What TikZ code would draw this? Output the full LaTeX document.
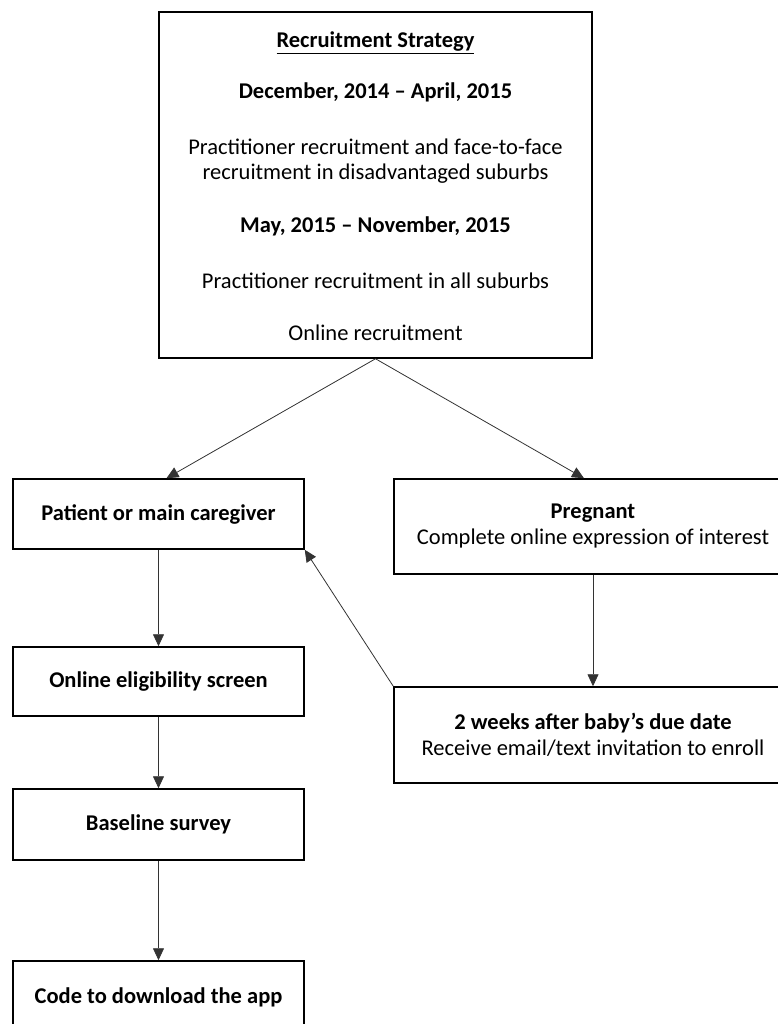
\documentclass[tikz,border=0pt]{standalone}
\usepackage{fontspec}
\setmainfont{Carlito}
\usepackage{tikz}
\usetikzlibrary{arrows.meta, positioning, calc}

\begin{document}
\begin{tikzpicture}[x=1pt, y=-1pt,
    box/.style={draw, line width=1.5pt, inner sep=0pt, font=\fontsize{22.5}{26}\selectfont},
    link/.style={draw=black!80, line width=0.8pt, -{Triangle[length=12pt, width=11pt]}},
    txt/.style={font=\fontsize{22.5}{26}\selectfont, inner sep=0pt}]
  \useasboundingbox (0,0) rectangle (778,1024);

  % recruitment strategy box
  \node[box, minimum width=433pt, minimum height=346pt] (strategy) at (375.5,185) {};
  \foreach \y/\l in {43/{\bfseries\underline{Recruitment Strategy}},
                     92/{\bfseries December, 2014 – April, 2015},
                     147/{Practitioner recruitment and face-to-face},
                     174/{recruitment in disadvantaged suburbs},
                     226/{\bfseries May, 2015 – November, 2015},
                     281/{Practitioner recruitment in all suburbs},
                     333/{Online recruitment}} {
    \node[txt] at (375.5,\y) {\l};
  }

  % left column
  \node[box, minimum width=291pt, minimum height=70pt] (patient) at (158.5,514)
    {\bfseries Patient or main caregiver};
  \node[box, minimum width=291pt, minimum height=69pt] (screen) at (158.5,681.5)
    {\bfseries Online eligibility screen};
  \node[box, minimum width=291pt, minimum height=71pt] (survey) at (158.5,824.5)
    {\bfseries Baseline survey};
  \node[box, minimum width=291pt, minimum height=72pt] (code) at (158.5,997)
    {\bfseries Code to download the app};

  % right column
  \node[box, minimum width=398pt, minimum height=95pt, align=center] (pregnant) at (593,526.5)
    {\bfseries Pregnant\\Complete online expression of interest};
  \node[box, minimum width=398pt, minimum height=96pt, align=center] (duedate) at (593,735)
    {\bfseries 2 weeks after baby’s due date\\Receive email/text invitation to enroll};

  \draw[link] (strategy.south) -- ([xshift=8pt]patient.north);
  \draw[link] (strategy.south) -- ([xshift=-9pt]pregnant.north);
  \draw[link] (patient) -- (screen);
  \draw[link] (screen) -- (survey);
  \draw[link] (survey) -- (code);
  \draw[link] (pregnant) -- (duedate);
  \draw[link] (duedate.north west) -- (patient.south east);
\end{tikzpicture}
\end{document}
